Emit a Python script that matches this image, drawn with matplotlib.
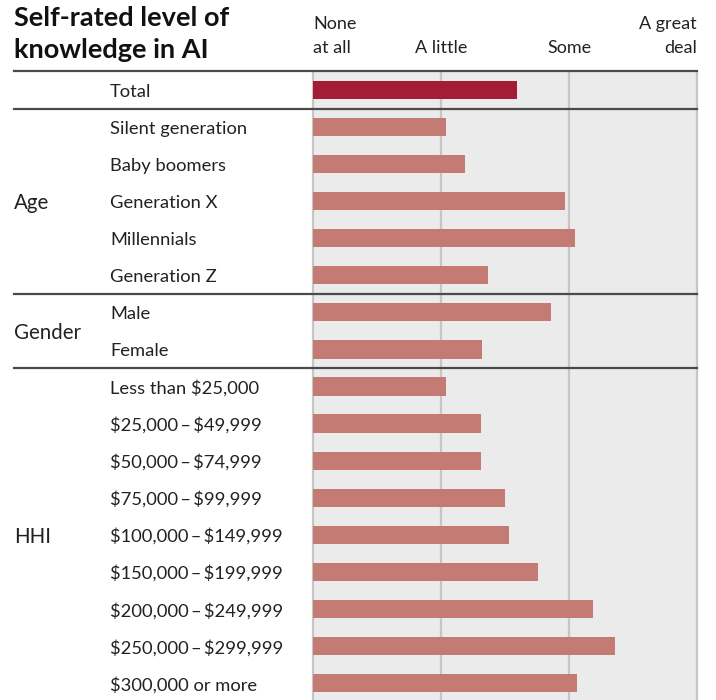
import numpy as np
import matplotlib.pyplot as plt
import matplotlib.transforms as mtransforms

# Data (1 = none at all ... 4 = a great deal)
labels = ["Total",
          "Silent generation", "Baby boomers", "Generation X", "Millennials", "Generation Z",
          "Male", "Female",
          "Less than $25,000", "$25,000\u2009–\u2009$49,999", "$50,000\u2009–\u2009$74,999",
          "$75,000\u2009–\u2009$99,999", "$100,000\u2009–\u2009$149,999",
          "$150,000\u2009–\u2009$199,999", "$200,000\u2009–\u2009$249,999",
          "$250,000\u2009–\u2009$299,999", "$300,000 or more"]
values = [2.59,
          2.04, 2.19, 2.97, 3.05, 2.37,
          2.86, 2.32,
          2.04, 2.31, 2.31, 2.50, 2.53, 2.76, 3.19, 3.36, 3.06]
groups = ["Age", "Gender", "HHI"]
group_rows = [(1, 5), (6, 7), (8, 16)]
scale_labels = ["None\nat all", "A little", "Some", "A great\ndeal"]
scale_ticks = [1, 2, 3, 4]

plt.rcParams['font.family'] = ['Lato', 'DejaVu Sans']

W, H = 716, 700
fig = plt.figure(figsize=(W / 100, H / 100), dpi=100)
ax = fig.add_axes([313 / W, 0, (697 - 313) / W, 1 - 71.5 / H])

n = len(labels)
y = np.arange(n)
colors = ['#a51c36'] + ['#c47b74'] * (n - 1)
ax.barh(y, np.array(values) - 1, left=1, height=0.49, color=colors, zorder=3)

ax.set_facecolor('#ebebeb')
ax.set_xlim(1, 4)
ax.set_ylim(16.46, -0.5)
for x in scale_ticks:
    ax.axvline(x, color='#c6c6c6', lw=1.6, zorder=1, clip_on=False)
ax.set_xticks([])
ax.set_yticks([])
for s in ax.spines.values():
    s.set_visible(False)

# left-side text in figure-x / data-y coordinates
trans_fy = mtransforms.blended_transform_factory(fig.transFigure, ax.transData)
for i, lab in enumerate(labels):
    ax.text(110 / W, i + 0.05, lab, transform=trans_fy, ha='left', va='center',
            fontsize=13.2, color='#222222', parse_math=False)
for g, (a, b) in zip(groups, group_rows):
    ax.text(14 / W, (a + b) / 2 + 0.05, g, transform=trans_fy, ha='left', va='center',
            fontsize=14.8, color='#222222')

# separator lines
for yy in [-0.5, 0.5, 5.5, 7.5]:
    ax.plot([14 / W, 697 / W], [yy, yy], transform=trans_fy, color='#4a4a4a',
            lw=1.6, clip_on=False, zorder=5)

# scale header
trans_xf = mtransforms.blended_transform_factory(ax.transData, fig.transFigure)
aligns = ['left', 'center', 'center', 'right']
for x, lab, ha in zip(scale_ticks, scale_labels, aligns):
    ax.text(x, 1 - 53 / H, lab, transform=trans_xf, ha=ha, va='baseline',
            fontsize=13, color='#222222', linespacing=1.65)

fig.text(14 / W, 1 - 6 / H, "Self-rated level of\nknowledge in AI", ha='left', va='top',
         fontsize=19.5, fontweight='bold', color='#111111', linespacing=1.4)

fig.savefig('out.png', dpi=100)
